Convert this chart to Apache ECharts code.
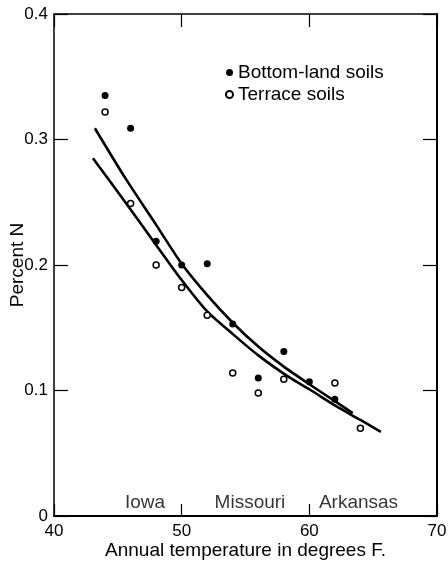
<!DOCTYPE html>
<html>
<head>
<meta charset="utf-8">
<script src="https://cdn.jsdelivr.net/npm/echarts@6/dist/echarts.min.js"></script>
<style>
  html, body { margin: 0; padding: 0; background: #fff; }
  #chart { width: 448px; height: 564px; }
</style>
</head>
<body>
<div id="chart"></div>
<script>
// Observed points (temperature °F, percent N)
const bottomLandTemps = [44, 46, 48, 50, 52, 54, 56, 58, 60, 62];
const bottomLandN     = [0.335, 0.309, 0.219, 0.200, 0.201, 0.153, 0.110, 0.131, 0.107, 0.093];
const terraceTemps    = [44, 46, 48, 50, 52, 54, 56, 58, 62, 64];
const terraceN        = [0.322, 0.249, 0.200, 0.182, 0.160, 0.114, 0.098, 0.109, 0.106, 0.070];

// Fitted curves
const bottomCurveTemps = [43.2, 45.6, 48, 50, 52, 54, 56, 58, 60, 62, 63.4];
const bottomCurveN     = [0.309, 0.269, 0.232, 0.201, 0.176, 0.154, 0.135, 0.119, 0.105, 0.0915, 0.082];
const terraceCurveTemps = [43.05, 45.3, 48, 50, 52, 54, 56, 58.5, 60, 62.1, 64, 65.6];
const terraceCurveN     = [0.285, 0.254, 0.216, 0.188, 0.163, 0.145, 0.128, 0.110, 0.101, 0.0875, 0.0765, 0.067];

// Region annotations along the bottom
const regionNames = ['Iowa', 'Missouri', 'Arkansas'];
const regionTemps = [47.13, 55.35, 63.85];
const regionLevel = [0.0105, 0.0105, 0.0105];

const seriesNames = ['Bottom-land soils', 'Terrace soils'];
const xTitle = 'Annual temperature in degrees F.';
const yTitle = 'Percent N';

const FONT = '"Liberation Sans", Arial, sans-serif';
const INK = '#000';

function pairs(xs, ys) { return xs.map((x, i) => [x, ys[i]]); }

const chart = echarts.init(document.getElementById('chart'), null, { renderer: 'canvas' });

const tickLabel = { color: INK, fontSize: 17, fontFamily: FONT };

chart.setOption({
  animation: false,
  backgroundColor: '#fff',
  textStyle: { fontFamily: FONT, color: INK },
  grid: { left: 54, right: 11, top: 14, bottom: 48, containLabel: false, outerBoundsMode: 'none' },
  legend: {
    orient: 'vertical',
    left: 220,
    top: 58,
    itemWidth: 7,
    itemHeight: 7,
    itemGap: 3,
    selectedMode: false,
    data: [
      { name: seriesNames[0], icon: 'circle' },
      { name: seriesNames[1], icon: 'circle' }
    ],
    textStyle: { fontSize: 19, color: INK, fontFamily: FONT }
  },
  xAxis: [
    {
      type: 'value', position: 'bottom', min: 40, max: 70, interval: 10,
      name: xTitle, nameLocation: 'middle', nameGap: 25, nameMoveOverlap: false,
      nameTextStyle: { fontSize: 19, color: INK, fontFamily: FONT },
      axisLine: { show: true, lineStyle: { color: INK, width: 2 } },
      axisTick: { show: true, inside: true, length: 12, lineStyle: { color: INK, width: 1.2 } },
      axisLabel: Object.assign({ margin: 7 }, tickLabel),
      splitLine: { show: false }
    },
    {
      type: 'value', position: 'top', min: 40, max: 70, interval: 10,
      axisLine: { show: true, onZero: false, lineStyle: { color: INK, width: 1.5 } },
      axisTick: { show: true, inside: true, length: 13, lineStyle: { color: INK, width: 1.2 } },
      axisLabel: { show: false },
      splitLine: { show: false }
    }
  ],
  yAxis: [
    {
      type: 'value', position: 'left', min: 0, max: 0.4, interval: 0.1,
      name: yTitle, nameLocation: 'middle', nameGap: 27, nameRotate: 90, nameMoveOverlap: false,
      nameTextStyle: { fontSize: 19, color: INK, fontFamily: FONT },
      axisLine: { show: true, onZero: false, lineStyle: { color: INK, width: 1.5 } },
      axisTick: { show: true, inside: true, length: 14, lineStyle: { color: INK, width: 1.2 } },
      axisLabel: Object.assign({ margin: 6 }, tickLabel),
      splitLine: { show: false }
    },
    {
      type: 'value', position: 'right', min: 0, max: 0.4, interval: 0.1,
      axisLine: { show: true, onZero: false, lineStyle: { color: INK, width: 2 } },
      axisTick: { show: true, inside: true, length: 14, lineStyle: { color: INK, width: 1.2 } },
      axisLabel: { show: false },
      splitLine: { show: false }
    }
  ],
  series: [
    {
      name: 'bottomCurve', type: 'line', xAxisIndex: 0, yAxisIndex: 0,
      data: pairs(bottomCurveTemps, bottomCurveN),
      smooth: 0.25, showSymbol: false, symbol: 'none',
      lineStyle: { color: INK, width: 2.6 }, silent: true, z: 2
    },
    {
      name: 'terraceCurve', type: 'line', xAxisIndex: 0, yAxisIndex: 0,
      data: pairs(terraceCurveTemps, terraceCurveN),
      smooth: 0.25, showSymbol: false, symbol: 'none',
      lineStyle: { color: INK, width: 2.6 }, silent: true, z: 2
    },
    {
      name: seriesNames[0], type: 'scatter', xAxisIndex: 0, yAxisIndex: 0,
      data: pairs(bottomLandTemps, bottomLandN),
      symbol: 'circle', symbolSize: 7,
      itemStyle: { color: INK, opacity: 1 }, z: 3
    },
    {
      name: seriesNames[1], type: 'scatter', xAxisIndex: 0, yAxisIndex: 0,
      data: pairs(terraceTemps, terraceN),
      symbol: 'circle', symbolSize: 6,
      itemStyle: { color: '#fff', borderColor: INK, borderWidth: 1.5, opacity: 1 }, z: 3
    },
    {
      name: 'regions', type: 'scatter', xAxisIndex: 0, yAxisIndex: 0,
      data: regionTemps.map((x, i) => ({ value: [x, regionLevel[i]], name: regionNames[i] })),
      symbolSize: 1, itemStyle: { color: 'rgba(0,0,0,0)' }, silent: true,
      label: {
        show: true, position: 'inside', formatter: p => p.name,
        fontSize: 19, color: INK, fontFamily: FONT
      },
      z: 4
    }
  ]
});
</script>
</body>
</html>
